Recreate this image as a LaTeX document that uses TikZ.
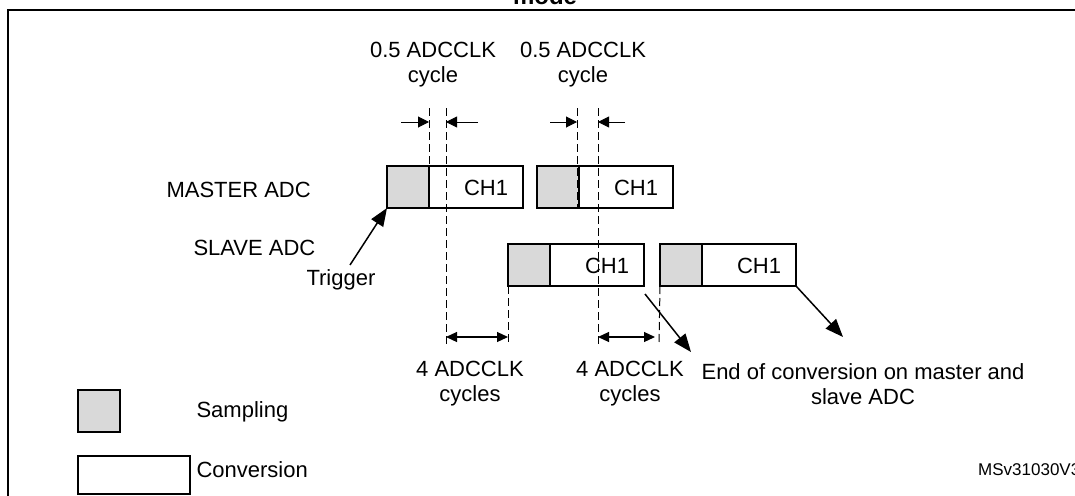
\documentclass[tikz,border=0pt]{standalone}
\usepackage{fontspec}
\setmainfont{Liberation Sans}
\usetikzlibrary{calc}
\usetikzlibrary{positioning}
\usetikzlibrary{arrows.meta}
\tikzset{samp/.style={draw, line width=1.5pt, fill=gray!30, minimum width=42pt, minimum height=42pt, inner sep=0pt, outer sep=0pt},
        conv/.style={draw, line width=1.5pt, fill=white, minimum width=94pt, minimum height=42pt, inner sep=0pt, outer sep=0pt},
        guide/.style={line width=1pt, dash pattern=on 8pt off 4pt},
        dim/.style={line width=1pt, -{Triangle[length=11pt,width=11pt]}},
        both/.style={line width=1.2pt, {Triangle[length=11pt,width=10pt]}-{Triangle[length=11pt,width=10pt]}},
        pointer/.style={line width=1.5pt, -{Triangle[length=18pt,width=14pt]}},
        lbl/.style={font=\fontsize{22}{25}\selectfont, align=center},
}
\begin{document}
\begin{tikzpicture}[x=1pt,y=-1pt]
    \useasboundingbox (0,0) rectangle (1075,495);
    \clip (0,0) rectangle (1075,495);

    % FRAME
    \node[font=\bfseries\fontsize{24}{28}\selectfont] (title) at (545,-4) {mode};
    \draw[line width=1.5pt] (1080,10) -- (8,10) -- (8,500);

    % MASTER ADC
    \node[samp, anchor=west] (mSampA) at (387,187) {};
    \node[conv, anchor=west] (mConvA) at (mSampA.east) {};
    \node[samp, anchor=west] (mSampB) at (537,187) {};
    \node[conv, anchor=west] (mConvB) at (mSampB.east) {};
    % SLAVE ADC
    \node[samp, anchor=west] (sSampA) at (508,265) {};
    \node[conv, anchor=west] (sConvA) at (sSampA.east) {};
    \node[samp, anchor=west] (sSampB) at (660,265) {};
    \node[conv, anchor=west] (sConvB) at (sSampB.east) {};

    \node[lbl] at ($(mConvA.center)+(10,1)$) {CH1};
    \node[lbl] at ($(mConvB.center)+(10,1)$) {CH1};
    \node[lbl] at ($(sConvA.center)+(10,1)$) {CH1};
    \node[lbl] at ($(sConvB.center)+(10,1)$) {CH1};

    \node[lbl, anchor=west] (master) at (163,190) {MASTER ADC};
    \node[lbl, anchor=west] (slave) at (190,248) {SLAVE ADC};
    \node[lbl, anchor=west] (trigger) at (303,280) {Trigger};

    % GUIDES
    \coordinate (gA1) at (429,108);
    \coordinate (gA2) at (446,108);
    \coordinate (gB1) at (577,108);
    \coordinate (gB2) at (598,108);
    \draw[guide] (gA1) -- (mSampA.south east);
    \draw[guide] (gA2) -- (446,345);
    \draw[guide] (gB1) -- (577,208);
    \draw[guide] (gB2) -- (598,345);
    \draw[guide] (sSampA.south west) -- (508,345);
    \draw[guide] (sSampB.south west) -- (659,345);

    % DIMENSIONS
    \draw[dim] (401,122) -- (429,122);
    \draw[dim] (478,122) -- (446,122);
    \draw[dim] (550,122) -- (577,122);
    \draw[dim] (625,122) -- (598,122);
    \draw[both] (446,337) -- (508,337);
    \draw[both] (598,337) -- (655,337);

    \node[lbl] (halfA) at (433,65) {0.5 ADCCLK\\cycle};
    \node[lbl] (halfB) at (583,65) {0.5 ADCCLK\\cycle};
    \node[lbl] (fourA) at (470,384) {4 ADCCLK\\cycles};
    \node[lbl] (fourB) at (630,384) {4 ADCCLK\\cycles};
    \node[lbl] (eoc) at (863,384) {End of conversion on master and\\slave ADC};

    % POINTERS
    \draw[pointer] (350,265) -- (mSampA.south west);
    \draw[pointer] (645,294) -- (691,352);
    \draw[pointer] (sConvB.south east) -- (843,337);

    % LEGEND
    \node[samp, anchor=north west] (legSamp) at (78,390) {};
    \node[conv, anchor=north west, minimum width=112pt, minimum height=38pt] (legConv) at (78,456) {};
    \node[lbl, anchor=west] at (193,412) {Sampling};
    \node[lbl, anchor=west] at (193,470) {Conversion};
    \node[font=\fontsize{17}{19}\selectfont, anchor=west, inner sep=0pt] (ref) at (978,470) {MSv31030V3};
\end{tikzpicture}
\end{document}
